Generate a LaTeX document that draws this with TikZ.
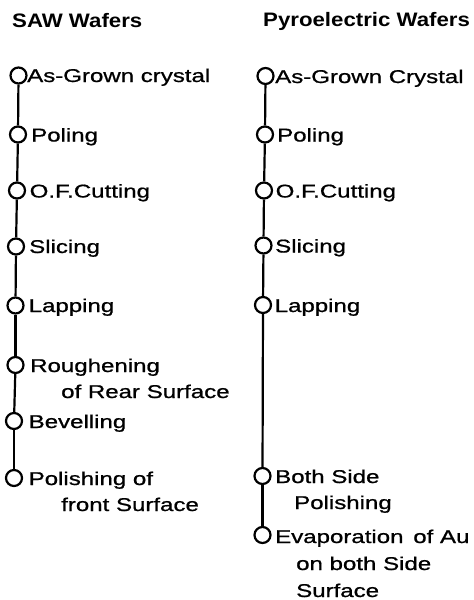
\documentclass[tikz,border=0pt]{standalone}
\usepackage{fontspec}
\setmainfont{Liberation Sans}[FakeStretch=1.3,FakeBold=0.9]
\newfontfamily\hdrfont{Liberation Sans}[FakeStretch=1.14]
\tikzset{
  stepdot/.style={circle, draw=black, line width=2.2pt, minimum size=16pt, inner sep=0pt},
  lbl/.style={anchor=base west, inner sep=0pt, font=\fontsize{18.5}{22}\selectfont},
  hdr/.style={anchor=base west, inner sep=0pt, font=\hdrfont\bfseries\fontsize{19.5}{24}\selectfont},
  spine/.style={line width=2.2pt}
}
\begin{document}
\begin{tikzpicture}[x=1pt,y=-1pt]
\useasboundingbox (0,0) rectangle (474,600);
% headers
\node[hdr] (h1) at (12,27) {SAW Wafers};
\node[hdr] (h2) at (263,26) {Pyroelectric Wafers};
% left column
\node[stepdot] (a1) at (18.5,75.5) {};
\node[stepdot] (a2) at (18,134.5) {};
\node[stepdot] (a3) at (17,190.5) {};
\node[stepdot] (a4) at (16,246.5) {};
\node[stepdot] (a5) at (15.5,305.5) {};
\node[stepdot] (a6) at (15.5,365) {};
\node[stepdot] (a7) at (14,421) {};
\node[stepdot] (a8) at (14,478) {};
\draw[spine] (a1) -- (a2);
\draw[spine] (a2) -- (a3);
\draw[spine] (a3) -- (a4);
\draw[spine] (a4) -- (a5);
\draw[spine] (a5) -- (a6);
\draw[spine] (a6) -- (a7);
\draw[spine] (a7) -- (a8);
\node[lbl] (ta1) at (27,82) {As-Grown crystal};
\node[lbl] (ta2) at (31,141.5) {Poling};
\node[lbl] (ta3) at (29.5,197.5) {O.F.Cutting};
\node[lbl] (ta4) at (29,253) {Slicing};
\node[lbl] (ta5) at (28.5,312) {Lapping};
\node[lbl] (ta6) at (30,372) {Roughening};
\node[lbl] (ta6b) at (61,398) {of Rear Surface};
\node[lbl] (ta7) at (28.5,428) {Bevelling};
\node[lbl] (ta8) at (28.5,485) {Polishing of};
\node[lbl] (ta8b) at (61,511) {front Surface};
% right column
\node[stepdot] (b1) at (265.5,76) {};
\node[stepdot] (b2) at (265,134.5) {};
\node[stepdot] (b3) at (264,190.5) {};
\node[stepdot] (b4) at (263.5,245.5) {};
\node[stepdot] (b5) at (263,305) {};
\node[stepdot] (b6) at (262.5,476) {};
\node[stepdot] (b7) at (262.5,535) {};
\draw[spine] (b1) -- (b2);
\draw[spine] (b2) -- (b3);
\draw[spine] (b3) -- (b4);
\draw[spine] (b4) -- (b5);
\draw[spine] (b5) -- (b6);
\draw[spine] (b6) -- (b7);
\node[lbl] (tb1) at (275,83) {As-Grown Crystal};
\node[lbl] (tb2) at (277,141.5) {Poling};
\node[lbl] (tb3) at (275.5,197.5) {O.F.Cutting};
\node[lbl] (tb4) at (275,252.5) {Slicing};
\node[lbl] (tb5) at (274.5,312) {Lapping};
\node[lbl] (tb6) at (275,483) {Both Side};
\node[lbl] (tb6b) at (294,509) {Polishing};
\node[lbl] (tb7) at (275,543) {Evaporation\, of Au};
\node[lbl] (tb7b) at (296,570) {on both Side};
\node[lbl] (tb7c) at (296,597) {Surface};
\end{tikzpicture}
\end{document}
